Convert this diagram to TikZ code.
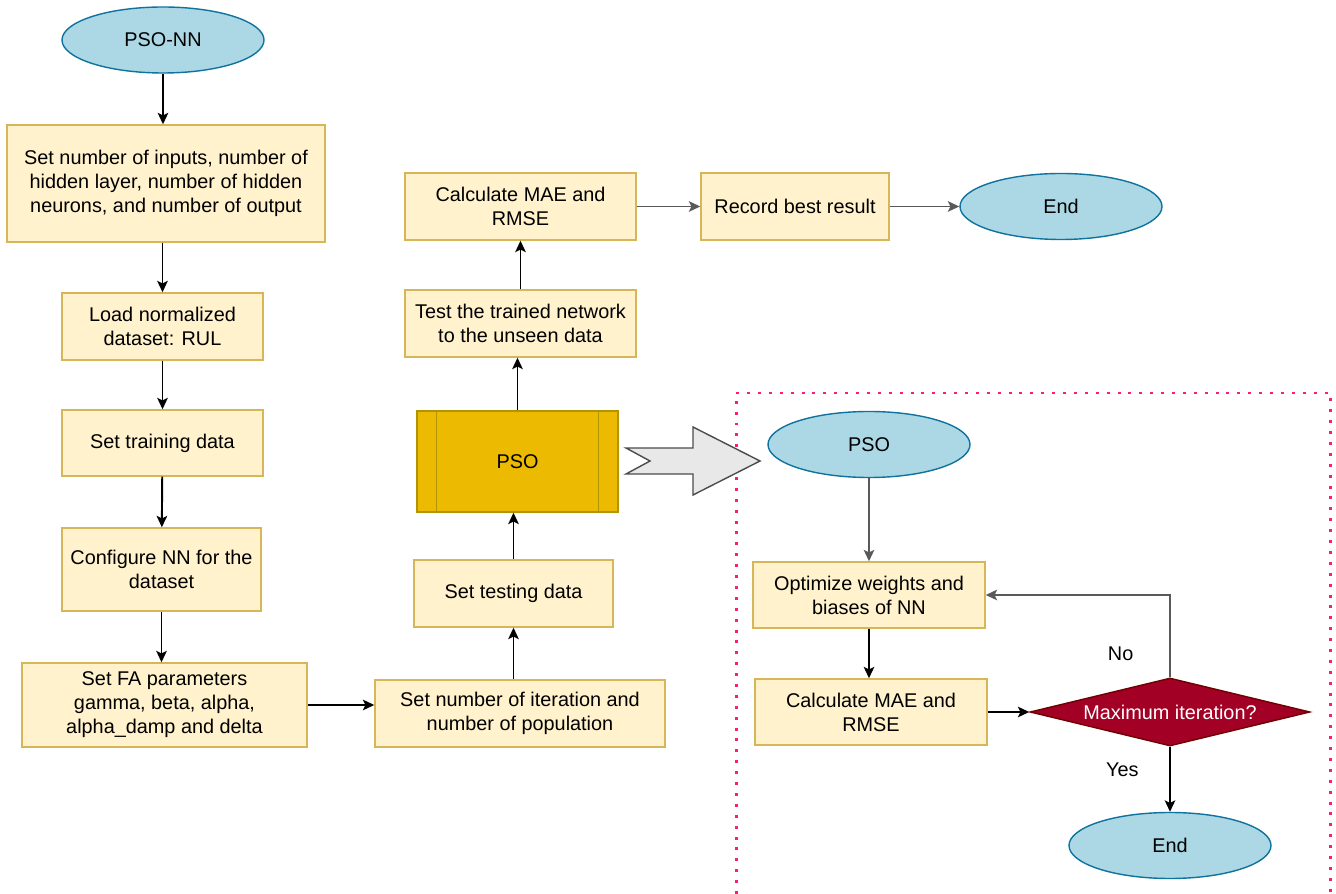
\documentclass[tikz,border=0pt]{standalone}
\usepackage{fontspec}
\setmainfont{Liberation Sans}
\usepackage{xcolor}
\usepackage{tikz}
\usetikzlibrary{shapes.geometric,arrows.meta}

\definecolor{boxfill}{HTML}{FFF2CC}
\definecolor{boxline}{HTML}{D6B656}
\definecolor{ovalfill}{HTML}{ABD8E4}
\definecolor{ovalline}{HTML}{10739E}
\definecolor{procfill}{HTML}{ECBA00}
\definecolor{procline}{HTML}{B09500}
\definecolor{decfill}{HTML}{A20025}
\definecolor{decline}{HTML}{6F0000}
\definecolor{zoomline}{HTML}{FF1A75}

\begin{document}
\begin{tikzpicture}[
  every node/.style={font=\fontsize{11.3}{13.6}\selectfont},
  stepbox/.style={draw=boxline, fill=boxfill, line width=0.8pt, align=center, inner sep=0pt},
  oval/.style={ellipse, draw=ovalline, fill=ovalfill, line width=0.8pt, minimum width=4.04cm, minimum height=1.32cm, inner sep=0pt},
  link/.style={-{Stealth[length=6.5pt,width=6pt,inset=1.5pt]}, line width=1.1pt},
  greylink/.style={link, draw=black!65}]
\useasboundingbox (0,0) rectangle (26.72,-17.88);
\draw[zoomline, line width=1.7pt, dash pattern=on 1.7pt off 4.5pt] (14.72,-17.88) -- (14.72,-7.86) -- (26.60,-7.86) -- (26.60,-17.88);

\node[oval] (psonn) at (3.26,-0.80) {PSO-NN};
\node[stepbox, minimum width=6.36cm, minimum height=2.34cm] (setnet) at (3.32,-3.67) {Set number of inputs, number of\\hidden layer, number of hidden\\neurons, and number of output};
\node[stepbox, minimum width=4.02cm, minimum height=1.34cm] (load) at (3.25,-6.53) {Load normalized\\dataset: RUL};
\node[stepbox, minimum width=4.02cm, minimum height=1.32cm] (train) at (3.25,-8.86) {Set training data};
\node[stepbox, minimum width=3.98cm, minimum height=1.66cm] (config) at (3.23,-11.39) {Configure NN for the\\dataset};
\node[stepbox, minimum width=5.70cm, minimum height=1.68cm] (fapar) at (3.29,-14.10) {Set FA parameters\\gamma, beta, alpha,\\alpha\_damp and delta};
\node[stepbox, minimum width=5.80cm, minimum height=1.34cm] (iter) at (10.40,-14.27) {Set number of iteration and\\number of population};
\node[stepbox, minimum width=3.98cm, minimum height=1.34cm] (test) at (10.27,-11.87) {Set testing data};
\node[draw=procline, fill=procfill, line width=0.8pt, minimum width=4.02cm, minimum height=2.02cm] (pso) at (10.35,-9.23) {PSO};
\draw[procline, line width=0.8pt] ([xshift=0.4cm]pso.north west) -- ([xshift=0.4cm]pso.south west)
  ([xshift=-0.4cm]pso.north east) -- ([xshift=-0.4cm]pso.south east);
\node[stepbox, minimum width=4.62cm, minimum height=1.34cm] (unseen) at (10.41,-6.47) {Test the trained network\\to the unseen data};
\node[stepbox, minimum width=4.62cm, minimum height=1.34cm] (calc) at (10.41,-4.13) {Calculate MAE and\\RMSE};
\node[stepbox, minimum width=3.76cm, minimum height=1.34cm] (record) at (15.90,-4.13) {Record best result};
\node[oval] (endtop) at (21.22,-4.13) {End};

\draw[draw=black!70, fill=black!9, line width=0.8pt] (12.52,-8.96) -- (13.00,-9.22) -- (12.52,-9.48) -- (13.86,-9.48)
  -- (13.86,-9.90) -- (15.20,-9.22) -- (13.86,-8.54) -- (13.86,-8.96) -- cycle;

\node[oval] (psostart) at (17.38,-8.89) {PSO};
\node[stepbox, minimum width=4.64cm, minimum height=1.32cm] (optim) at (17.38,-11.90) {Optimize weights and\\biases of NN};
\node[stepbox, minimum width=4.64cm, minimum height=1.32cm] (calcpso) at (17.42,-14.24) {Calculate MAE and\\RMSE};
\node[diamond, aspect=4.1, draw=decline, fill=decfill, text=white, line width=0.8pt, inner sep=0pt, minimum width=5.6cm, minimum height=1.36cm] (maxit) at (23.40,-14.24) {Maximum iteration?};
\node[oval] (endbot) at (23.40,-16.91) {End};

\draw[link] (psonn.south) -- (psonn.south |- setnet.north);
\draw[link] (setnet.south -| load) -- (load.north);
\draw[link] (load) -- (train);
\draw[link] (train) -- (config);
\draw[link] (config.south) -- (config.south |- fapar.north);
\draw[link] (fapar.east) -- (fapar.east -| iter.west);
\draw[link] (test.south |- iter.north) -- (test.south);
\draw[link] (test.north) -- (test.north |- pso.south);
\draw[link] (pso.north) -- (pso.north |- unseen.south);
\draw[link] (unseen) -- (calc);
\draw[greylink] (calc) -- (record);
\draw[greylink] (record) -- (endtop);
\draw[greylink] (psostart) -- (optim);
\draw[link] (optim.south) -- (optim.south |- calcpso.north);
\draw[link] (calcpso.east) -- (maxit.west);
\draw[link] (maxit.south) -- node[pos=0.35, left=14pt] {Yes} (endbot.north);
\draw[greylink] (maxit.north) |- node[pos=0.14, left=17pt] {No} (optim.east);
\end{tikzpicture}
\end{document}
